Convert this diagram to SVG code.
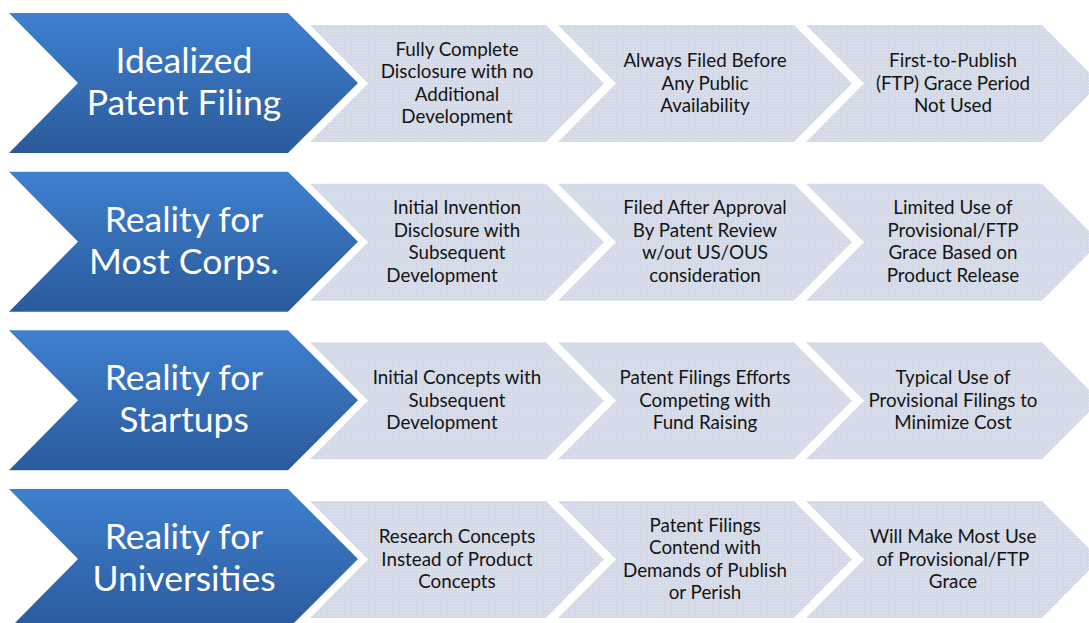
<svg xmlns="http://www.w3.org/2000/svg" width="1089" height="623" viewBox="0 0 1089 623">
<defs>
<linearGradient id="blue" x1="0" y1="0" x2="0" y2="1">
<stop offset="0" stop-color="#3e80d0"/>
<stop offset="1" stop-color="#2b5a9b"/>
</linearGradient>
<pattern id="dots" width="3" height="3" patternUnits="userSpaceOnUse">
<rect width="3" height="3" fill="#d2d8e6"/>
<rect width="1" height="1" fill="#e6e9f1"/>
<rect x="1.5" y="1.5" width="1" height="1" fill="#dde1eb"/>
</pattern>
<path id="big" d="M9,0 L288,0 L358,70 L288,140 L9,140 L78,70 Z"/>
<path id="small" d="M0,12 L236,12 L294,70.5 L236,129 L0,129 L58,70.5 Z"/>
</defs>
<style>
.big{fill:url(#blue)}
.small{fill:url(#dots)}
.bt{font-family:Lato,"Liberation Sans",sans-serif;font-size:35.5px;fill:#ffffff;text-anchor:middle}
.st{font-family:Lato,"Liberation Sans",sans-serif;font-size:18.8px;fill:#141414;text-anchor:middle}
</style>
<rect width="1089" height="623" fill="#ffffff"/>

<g id="row1" transform="translate(0,13)">
<g id="n1"><use href="#big" class="big"/><text class="bt" x="184" y="60">Idealized</text><text class="bt" x="184" y="102">Patent Filing</text></g>
<g id="n1a" transform="translate(310,0)"><use href="#small" class="small"/><text class="st" x="147" y="42.75">Fully Complete</text><text class="st" x="147" y="65.25">Disclosure with no</text><text class="st" x="147" y="87.75">Additional</text><text class="st" x="147" y="110.25">Development</text></g>
<g id="n1b" transform="translate(558,0)"><use href="#small" class="small"/><text class="st" x="147" y="54">Always Filed Before</text><text class="st" x="147" y="76.5">Any Public</text><text class="st" x="147" y="99">Availability</text></g>
<g id="n1c" transform="translate(806,0)"><use href="#small" class="small"/><text class="st" x="147" y="54">First-to-Publish</text><text class="st" x="147" y="76.5">(FTP) Grace Period</text><text class="st" x="147" y="99">Not Used</text></g>
</g>

<g id="row2" transform="translate(0,171.67)">
<g id="n2"><use href="#big" class="big"/><text class="bt" x="184" y="60">Reality for</text><text class="bt" x="184" y="102">Most Corps.</text></g>
<g id="n2a" transform="translate(310,0)"><use href="#small" class="small"/><text class="st" x="147" y="42.75">Initial Invention</text><text class="st" x="147" y="65.25">Disclosure with</text><text class="st" x="147" y="87.75">Subsequent</text><text class="st" x="132" y="110.25">Development</text></g>
<g id="n2b" transform="translate(558,0)"><use href="#small" class="small"/><text class="st" x="147" y="42.75">Filed After Approval</text><text class="st" x="147" y="65.25">By Patent Review</text><text class="st" x="147" y="87.75">w/out US/OUS</text><text class="st" x="147" y="110.25">consideration</text></g>
<g id="n2c" transform="translate(806,0)"><use href="#small" class="small"/><text class="st" x="147" y="42.75">Limited Use of</text><text class="st" x="147" y="65.25">Provisional/FTP</text><text class="st" x="147" y="87.75">Grace Based on</text><text class="st" x="147" y="110.25">Product Release</text></g>
</g>

<g id="row3" transform="translate(0,330.33)">
<g id="n3"><use href="#big" class="big"/><text class="bt" x="184" y="60">Reality for</text><text class="bt" x="184" y="102">Startups</text></g>
<g id="n3a" transform="translate(310,0)"><use href="#small" class="small"/><text class="st" x="147" y="54">Initial Concepts with</text><text class="st" x="147" y="76.5">Subsequent</text><text class="st" x="132" y="99">Development</text></g>
<g id="n3b" transform="translate(558,0)"><use href="#small" class="small"/><text class="st" x="147" y="54">Patent Filings Efforts</text><text class="st" x="147" y="76.5">Competing with</text><text class="st" x="147" y="99">Fund Raising</text></g>
<g id="n3c" transform="translate(806,0)"><use href="#small" class="small"/><text class="st" x="147" y="54">Typical Use of</text><text class="st" x="147" y="76.5">Provisional Filings to</text><text class="st" x="147" y="99">Minimize Cost</text></g>
</g>

<g id="row4" transform="translate(0,489)">
<g id="n4"><use href="#big" class="big"/><text class="bt" x="184" y="60">Reality for</text><text class="bt" x="184" y="102">Universities</text></g>
<g id="n4a" transform="translate(310,0)"><use href="#small" class="small"/><text class="st" x="147" y="54">Research Concepts</text><text class="st" x="147" y="76.5">Instead of Product</text><text class="st" x="147" y="99">Concepts</text></g>
<g id="n4b" transform="translate(558,0)"><use href="#small" class="small"/><text class="st" x="147" y="42.75">Patent Filings</text><text class="st" x="147" y="65.25">Contend with</text><text class="st" x="147" y="87.75">Demands of Publish</text><text class="st" x="147" y="110.25">or Perish</text></g>
<g id="n4c" transform="translate(806,0)"><use href="#small" class="small"/><text class="st" x="147" y="54">Will Make Most Use</text><text class="st" x="147" y="76.5">of Provisional/FTP</text><text class="st" x="147" y="99">Grace</text></g>
</g>
<g id="connectors"/>
</svg>
